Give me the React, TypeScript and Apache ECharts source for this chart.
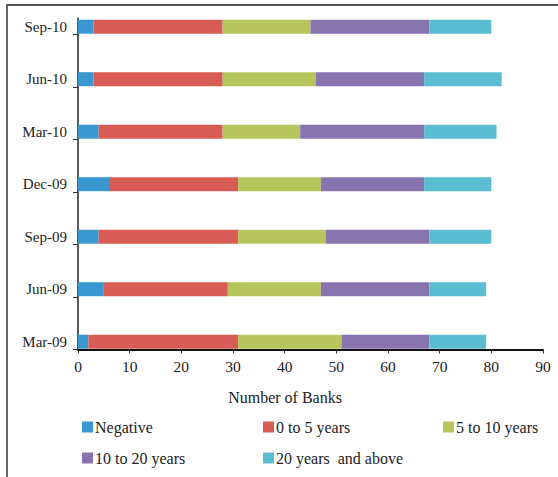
import React, { useEffect, useRef } from "react";
import * as echarts from "echarts";

// Quarters, bottom to top on the category axis
const quarters = ["Mar-09", "Jun-09", "Sep-09", "Dec-09", "Mar-10", "Jun-10", "Sep-10"];

// Number of banks in each bucket, per quarter (same order as quarters)
const negative = [2, 5, 4, 6, 4, 3, 3];
const zeroToFive = [29, 24, 27, 25, 24, 25, 25];
const fiveToTen = [20, 18, 17, 16, 15, 18, 17];
const tenToTwenty = [17, 21, 20, 20, 24, 21, 23];
const twentyPlus = [11, 11, 12, 13, 14, 15, 12];

const seriesNames = ["Negative", "0 to 5 years", "5 to 10 years", "10 to 20 years", "20 years  and above"];
const seriesColors = ["#3A97CF", "#D95B55", "#B6C65C", "#8875B0", "#5ABDD2"];
const seriesData = [negative, zeroToFive, fiveToTen, tenToTwenty, twentyPlus];

const xTicks = { min: 0, max: 90, interval: 10 };
const axisTitle = "Number of Banks";

const FONT = "'Liberation Serif', 'Times New Roman', serif";
const INK = "#222";

export default function App() {
  const ref = useRef<HTMLDivElement>(null);

  useEffect(() => {
    if (!ref.current) return;
    const chart = echarts.init(ref.current, undefined, { renderer: "svg" });

    const left = 78;
    const right = 558 - 543;
    const band = 52.5;
    const firstCenter = 26.7;
    const axisBottom = 349.5;
    const axisTop = 18;
    const tickMax = (axisBottom - axisTop) / band;

    const legendPos = [
      { left: 82, top: 419 },
      { left: 263, top: 419 },
      { left: 443, top: 419 },
      { left: 82, top: 450 },
      { left: 263, top: 450 },
    ];

    chart.setOption({
      animation: false,
      grid: [
        // bars
        {
          left,
          right,
          top: firstCenter - band / 2,
          height: band * quarters.length,
          containLabel: false,
        },
        // axis frame
        {
          left,
          right,
          top: axisTop,
          height: axisBottom - axisTop,
          containLabel: false,
        },
      ],
      xAxis: [
        {
          gridIndex: 0,
          type: "value",
          min: xTicks.min,
          max: xTicks.max,
          interval: xTicks.interval,
          show: false,
        },
        {
          gridIndex: 1,
          type: "value",
          min: xTicks.min,
          max: xTicks.max,
          interval: xTicks.interval,
          axisLine: { show: true, lineStyle: { color: "#111", width: 2 } },
          axisTick: { show: true, length: 4, lineStyle: { color: "#333", width: 1 } },
          axisLabel: { color: INK, fontFamily: FONT, fontSize: 15.5, margin: 9 },
          splitLine: { show: false },
        },
      ],
      yAxis: [
        {
          gridIndex: 0,
          type: "category",
          data: quarters,
          axisLine: { show: false },
          axisTick: { show: false },
          axisLabel: { color: INK, fontFamily: FONT, fontSize: 15, margin: 11 },
        },
        {
          gridIndex: 1,
          type: "value",
          min: 0,
          max: tickMax,
          axisLine: { show: true, lineStyle: { color: "#222", width: 1.5 } },
          axisTick: {
            show: true,
            length: 5,
            customValues: [0, 1, 2, 3, 4, 5, 6],
            lineStyle: { color: "#333", width: 1 },
          },
          axisLabel: { show: false },
          splitLine: { show: false },
        },
      ],
      legend: seriesNames.map((name, i) => ({
        data: [name],
        left: legendPos[i].left,
        top: legendPos[i].top,
        padding: 0,
        itemGap: 0,
        itemWidth: 11,
        itemHeight: 11,
        icon: "rect",
        selectedMode: false,
        textStyle: { color: INK, fontFamily: FONT, fontSize: 16, padding: [0, 0, 0, -3] },
      })),
      graphic: [
        // outer frame: only its top and left edges fall inside the canvas
        {
          type: "rect",
          shape: { x: 7, y: 5, width: 800, height: 600 },
          style: { fill: "none", stroke: "#555", lineWidth: 1.8 },
          silent: true,
        },
        {
          type: "text",
          x: 285,
          y: 397,
          style: {
            text: axisTitle,
            font: `16px ${FONT}`,
            fill: INK,
            textAlign: "center",
            textVerticalAlign: "middle",
          },
        },
      ],
      series: seriesNames.map((name, i) => ({
        name,
        type: "bar",
        stack: "total",
        xAxisIndex: 0,
        yAxisIndex: 0,
        barWidth: 14,
        itemStyle: { color: seriesColors[i] },
        data: seriesData[i],
      })),
    });

    return () => chart.dispose();
  }, []);

  return (
    <div
      ref={ref}
      style={{ position: "fixed", left: 0, top: 0, width: 558, height: 477, background: "#fff" }}
    />
  );
}
